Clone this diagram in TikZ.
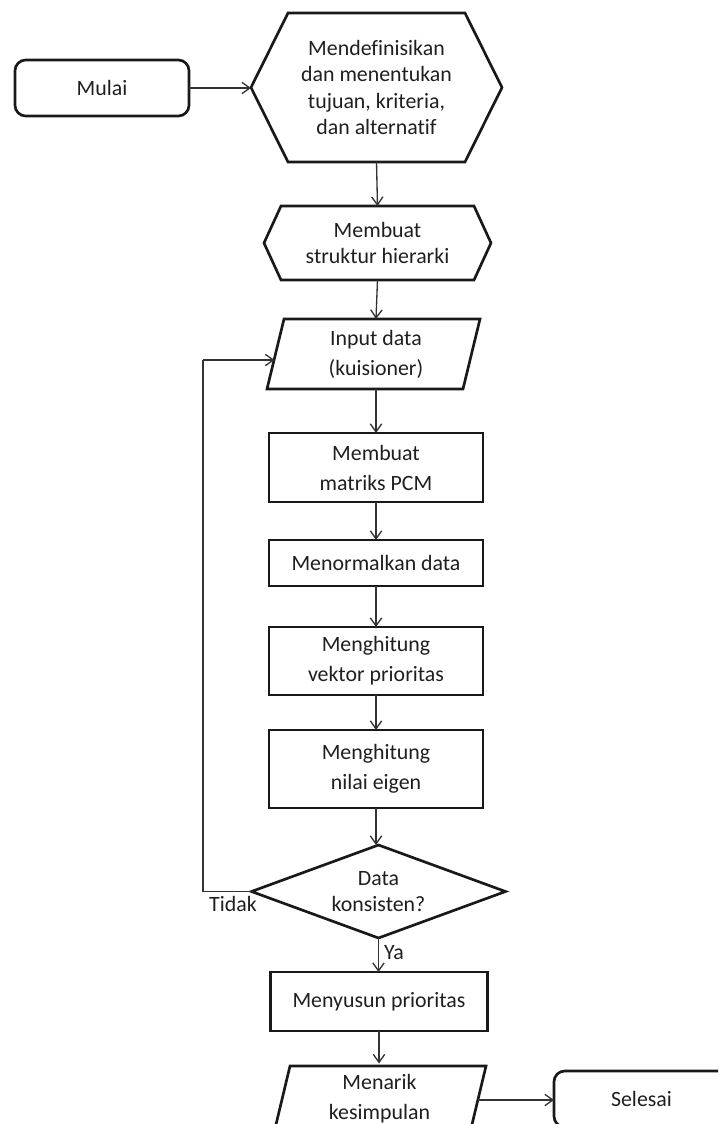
\documentclass[tikz,border=0pt]{standalone}
\usepackage{fontspec}
\setmainfont{Carlito}[Ligatures={NoCommon}]
\usetikzlibrary{arrows.meta,calc}
\begin{document}
\begin{tikzpicture}[x=0.75pt,y=-0.75pt,
  shapeline/.style={line width=2pt,draw=black!90,line join=miter},
  lbl/.style={shape=rectangle,inner sep=0pt,outer sep=0pt,align=center,text=black!88,font=\fontsize{16.4}{19.8}\selectfont},
  lblwide/.style={lbl,font=\fontsize{16.4}{22.5}\selectfont},
  boxnode/.style={lblwide,draw=black!90,line width=2pt},
  arr/.style={draw=black!80,line width=1pt,-{Straight Barb[length=6pt,width=8.5pt,line width=1pt]}},
  fline/.style={draw=black!80,line width=1pt},
  tag/.style={inner sep=0pt,text=black!88,font=\fontsize{16.4}{20}\selectfont}
]
\useasboundingbox (0,0) rectangle (718,1124);
\clip (0,0) rectangle (718,1124);

% Mulai
\node[lbl,draw=black!90,line width=2pt,rounded corners=8pt,minimum width=174*0.75pt,minimum height=56*0.75pt] (mulai) at (102,88) {Mulai};

% Hexagon 1
\node[lbl,minimum width=251*0.75pt,minimum height=149*0.75pt] (hA) at (376.5,87.5) {Mendefinisikan\\dan menentukan\\tujuan, kriteria,\\dan alternatif};
\draw[shapeline] (251,87.5) -- (288,13) -- (465,13) -- (502,87.5) -- (465,162) -- (288,162) -- cycle;

% Hexagon 2
\node[lbl,minimum width=227*0.75pt,minimum height=74*0.75pt] (hS) at (377.5,243) {Membuat\\struktur hierarki};
\draw[shapeline] (264,243) -- (281,206) -- (474,206) -- (491,243) -- (474,280) -- (281,280) -- cycle;

% Input data
\node[lblwide,minimum width=213*0.75pt,minimum height=70*0.75pt] (inp) at (376,354) {Input data\\(kuisioner)};
\draw[shapeline] (284,319) -- (480,319) -- (463,389) -- (267,389) -- cycle;
\coordinate (inpL) at (274.5,360);

% Boxes
\node[boxnode,minimum width=214*0.75pt,minimum height=69*0.75pt] (pcm) at (376,467.5) {Membuat\\matriks PCM};
\node[boxnode,minimum width=214*0.75pt,minimum height=46*0.75pt] (norm) at (376,563) {Menormalkan data};
\node[boxnode,minimum width=214*0.75pt,minimum height=68*0.75pt] (vek) at (376,661) {Menghitung\\vektor prioritas};
\node[boxnode,minimum width=214*0.75pt,minimum height=78*0.75pt] (eig) at (376,769) {Menghitung\\nilai eigen};

% Diamond
\node[lbl,minimum width=254*0.75pt,minimum height=93*0.75pt] (dia) at (378.5,891.5) {Data\\konsisten?};
\draw[shapeline] (251.5,891.5) -- (378.5,845) -- (505.5,891.5) -- (378.5,938) -- cycle;

\node[boxnode,minimum width=217*0.75pt,minimum height=59*0.75pt] (sus) at (379,1001.5) {Menyusun prioritas};

% Menarik kesimpulan
\node[lblwide,minimum width=213*0.75pt,minimum height=71*0.75pt] (tarik) at (379.5,1099) {Menarik\\kesimpulan};
\draw[shapeline] (290,1066) -- (486,1066) -- (469,1137) -- (273,1137) -- cycle;
\coordinate (tarikR) at (478,1100);

% Selesai
\node[lbl,draw=black!90,line width=2pt,rounded corners=8pt,minimum width=175*0.75pt,minimum height=56*0.75pt] (selesai) at (641.5,1099) {Selesai};

% Connectors
\draw[arr] (mulai.east) -- (mulai.east -| hA.west);
\draw[arr] (hA.south) -- (hS.north);
\draw[arr] (hS.south) -- (inp.north);
\draw[arr] (inp.south) -- (pcm.north);
\draw[arr] (pcm.south) -- (norm.north);
\draw[arr] (norm.south) -- (vek.north);
\draw[arr] (vek.south) -- (eig.north);
\draw[arr] (eig.south) -- (eig.south |- dia.north);
\draw[arr] (dia.south) -- (dia.south |- sus.north);
\draw[arr] (sus.south) -- (sus.south |- tarik.north);
\draw[arr] (tarikR) -- (tarikR -| selesai.west);
\coordinate (fbA) at (203,891.5);
\coordinate (fbB) at (203,360);
\draw[fline] (dia.west) -- (fbA) -- (fbB);
\draw[arr] (fbB) -- (inpL);

\node[tag] (tidak) at (233,904) {Tidak};
\node[tag] (ya) at (394,953) {Ya};
\end{tikzpicture}
\end{document}
